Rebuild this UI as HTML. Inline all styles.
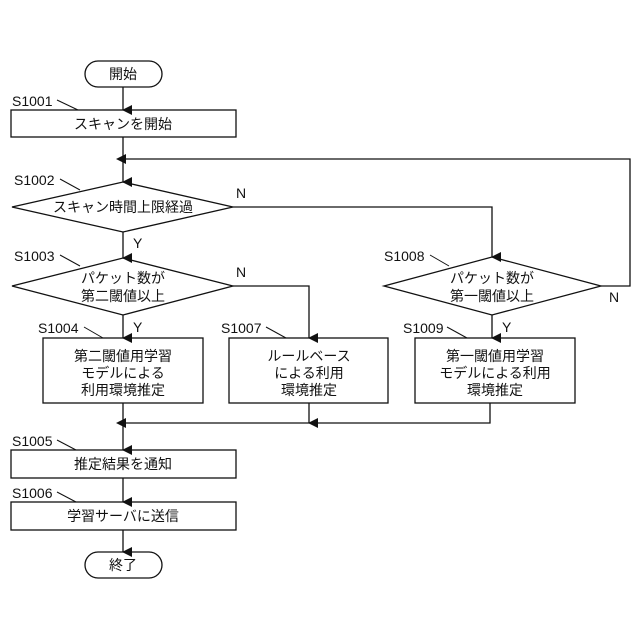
<!DOCTYPE html>
<html><head><meta charset="utf-8"><style>
html,body{margin:0;padding:0;background:#fff;width:640px;height:640px;overflow:hidden}
svg text{font-family:"Liberation Sans","Noto Sans CJK JP",sans-serif;font-size:14px;fill:#111}
.j{text-anchor:middle}
</style></head><body>
<svg width="640" height="640" viewBox="0 0 640 640" xmlns="http://www.w3.org/2000/svg">
<defs><marker id="a" markerWidth="10" markerHeight="10" refX="5" refY="9" orient="auto" markerUnits="userSpaceOnUse" viewBox="0 0 10 10"><path d="M0,0 L10,0 L5,10 z" fill="#111"/></marker>
<marker id="l" markerWidth="10" markerHeight="10" refX="9" refY="5" orient="0" markerUnits="userSpaceOnUse" viewBox="0 0 10 10"><path d="M10,0 L10,10 L0,5 z" fill="#111"/></marker></defs>
<g fill="none" stroke="#111" stroke-width="1.3">
<rect x="85" y="61" width="77" height="26" rx="13"/>
<rect x="11" y="110" width="225" height="27"/>
<path d="M12,207 L123,182 L233,207 L123,232 Z"/>
<path d="M12,286 L123,258 L233,286 L123,315 Z"/>
<path d="M384,286 L492,257 L601,286 L492,315 Z"/>
<rect x="43" y="338" width="160" height="65"/>
<rect x="229" y="338" width="159" height="65"/>
<rect x="415" y="338" width="160" height="65"/>
<rect x="11" y="450" width="225" height="28"/>
<rect x="11" y="502" width="225" height="28"/>
<rect x="85" y="552" width="77" height="26" rx="13"/>
<line x1="123" y1="87" x2="123" y2="110" marker-end="url(#a)"/>
<line x1="123" y1="137" x2="123" y2="182" marker-end="url(#a)"/>
<polyline points="601,286 630,286 630,159 125,159" marker-end="url(#l)"/>
<polyline points="233,207 492,207 492,257" marker-end="url(#a)"/>
<line x1="123" y1="232" x2="123" y2="258" marker-end="url(#a)"/>
<polyline points="233,286 309,286 309,338" marker-end="url(#a)"/>
<line x1="123" y1="315" x2="123" y2="338" marker-end="url(#a)"/>
<line x1="492" y1="315" x2="492" y2="338" marker-end="url(#a)"/>
<line x1="309" y1="403" x2="309" y2="423" marker-end="url(#a)"/>
<polyline points="490,403 490,423 125,423" marker-end="url(#l)"/>
<line x1="123" y1="403" x2="123" y2="450" marker-end="url(#a)"/>
<line x1="123" y1="478" x2="123" y2="502" marker-end="url(#a)"/>
<line x1="123" y1="530" x2="123" y2="552" marker-end="url(#a)"/>
<g stroke-width="1">
<line x1="57" y1="100" x2="78" y2="110"/>
<line x1="60" y1="179" x2="80" y2="190"/>
<line x1="60" y1="255" x2="80" y2="266"/>
<line x1="84" y1="327" x2="103" y2="338"/>
<line x1="266" y1="327" x2="286" y2="338"/>
<line x1="430" y1="255" x2="449" y2="266"/>
<line x1="447" y1="327" x2="467" y2="338"/>
<line x1="57" y1="440" x2="76" y2="450"/>
<line x1="57" y1="492" x2="76" y2="502"/>
</g>
</g>
<text class="j" x="123" y="79">開始</text>
<text class="j" x="123" y="129">スキャンを開始</text>
<text class="j" x="123" y="212">スキャン時間上限経過</text>
<text class="j" x="123" y="283">パケット数が</text>
<text class="j" x="123" y="301">第二閾値以上</text>
<text class="j" x="492" y="283">パケット数が</text>
<text class="j" x="492" y="301">第一閾値以上</text>
<text class="j" x="123" y="361">第二閾値用学習</text>
<text class="j" x="123" y="378">モデルによる</text>
<text class="j" x="123" y="395">利用環境推定</text>
<text class="j" x="309" y="361">ルールベース</text>
<text class="j" x="309" y="378">による利用</text>
<text class="j" x="309" y="395">環境推定</text>
<text class="j" x="495" y="361">第一閾値用学習</text>
<text class="j" x="495" y="378">モデルによる利用</text>
<text class="j" x="495" y="395">環境推定</text>
<text class="j" x="123" y="469">推定結果を通知</text>
<text class="j" x="123" y="521">学習サーバに送信</text>
<text class="j" x="123" y="570">終了</text>
<text x="12" y="106">S1001</text>
<text x="14" y="185">S1002</text>
<text x="14" y="261">S1003</text>
<text x="38" y="333">S1004</text>
<text x="221" y="333">S1007</text>
<text x="384" y="261">S1008</text>
<text x="403" y="333">S1009</text>
<text x="12" y="446">S1005</text>
<text x="12" y="498">S1006</text>
<text x="236" y="198">N</text>
<text x="236" y="277">N</text>
<text x="609" y="302">N</text>
<text x="133" y="248">Y</text>
<text x="133" y="332">Y</text>
<text x="502" y="332">Y</text>
</svg>
</body></html>
